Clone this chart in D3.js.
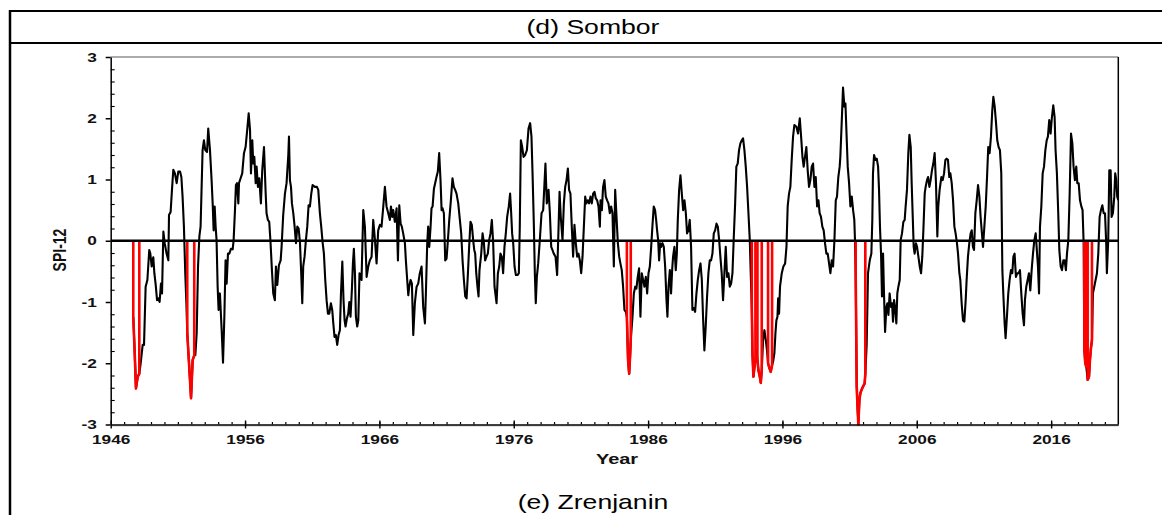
<!DOCTYPE html>
<html>
<head>
<meta charset="utf-8">
<script src="https://cdn.jsdelivr.net/npm/d3@7"></script>
<style>
  html, body { margin: 0; padding: 0; background: #fff; }
  svg { display: block; font-family: "Liberation Sans", Arial, sans-serif; }
</style>
</head>
<body>
<svg id="chart" width="1162" height="515"></svg>
<script>
// Monthly SPI-12 series for Sombor (decimal year, index value)
const years = [
  1947.68,1947.78,1947.88,1948.01,1948.13,1948.23,1948.38,1948.48,1948.60,1948.73,1948.87,1948.95,
  1949.05,1949.17,1949.25,1949.35,1949.45,1949.54,1949.64,1949.74,1949.82,1949.92,1950.02,1950.16,
  1950.29,1950.34,1950.46,1950.56,1950.66,1950.78,1950.91,1951.03,1951.16,1951.26,1951.35,1951.45,
  1951.55,1951.63,1951.70,1951.83,1951.98,1952.10,1952.22,1952.30,1952.40,1952.50,1952.60,1952.69,
  1952.84,1952.94,1953.04,1953.17,1953.26,1953.39,1953.51,1953.59,1953.66,1953.74,1953.81,1953.88,
  1953.96,1954.03,1954.13,1954.26,1954.36,1954.46,1954.55,1954.63,1954.73,1954.83,1954.95,1955.08,
  1955.15,1955.25,1955.32,1955.40,1955.50,1955.55,1955.67,1955.79,1955.92,1956.04,1956.17,1956.27,
  1956.37,1956.44,1956.54,1956.61,1956.69,1956.79,1956.86,1956.96,1957.06,1957.18,1957.28,1957.41,
  1957.53,1957.60,1957.70,1957.80,1957.90,1958.00,1958.10,1958.22,1958.30,1958.40,1958.52,1958.65,
  1958.72,1958.84,1958.97,1959.09,1959.22,1959.27,1959.34,1959.42,1959.49,1959.59,1959.69,1959.79,
  1959.89,1959.99,1960.09,1960.18,1960.26,1960.33,1960.43,1960.53,1960.63,1960.73,1960.83,1960.93,
  1961.03,1961.20,1961.35,1961.45,1961.57,1961.67,1961.77,1961.87,1961.97,1962.07,1962.17,1962.27,
  1962.39,1962.49,1962.57,1962.66,1962.76,1962.86,1962.96,1963.06,1963.14,1963.24,1963.33,1963.41,
  1963.48,1963.58,1963.68,1963.76,1963.85,1963.95,1964.03,1964.10,1964.18,1964.25,1964.35,1964.43,
  1964.52,1964.67,1964.80,1964.92,1965.05,1965.17,1965.29,1965.42,1965.54,1965.67,1965.79,1965.91,
  1966.04,1966.16,1966.29,1966.41,1966.53,1966.66,1966.78,1966.86,1966.96,1967.03,1967.15,1967.28,
  1967.38,1967.48,1967.58,1967.67,1967.77,1967.90,1967.97,1968.07,1968.15,1968.22,1968.32,1968.42,
  1968.52,1968.64,1968.77,1968.89,1969.01,1969.14,1969.26,1969.39,1969.46,1969.56,1969.63,1969.71,
  1969.81,1969.88,1969.96,1970.06,1970.15,1970.25,1970.35,1970.45,1970.55,1970.63,1970.70,1970.80,
  1970.90,1971.00,1971.10,1971.20,1971.32,1971.44,1971.54,1971.64,1971.74,1971.87,1971.99,1972.09,
  1972.19,1972.29,1972.39,1972.49,1972.59,1972.68,1972.78,1972.88,1972.98,1973.06,1973.13,1973.21,
  1973.30,1973.38,1973.45,1973.58,1973.68,1973.78,1973.87,1973.97,1974.07,1974.17,1974.27,1974.37,
  1974.47,1974.57,1974.72,1974.82,1974.92,1975.01,1975.11,1975.21,1975.31,1975.41,1975.51,1975.63,
  1975.73,1975.81,1975.88,1975.96,1976.06,1976.16,1976.28,1976.38,1976.45,1976.53,1976.63,1976.73,
  1976.85,1976.98,1977.10,1977.22,1977.32,1977.40,1977.50,1977.57,1977.64,1977.72,1977.82,1977.94,
  1978.07,1978.19,1978.29,1978.36,1978.46,1978.59,1978.69,1978.79,1978.88,1978.98,1979.11,1979.23,
  1979.33,1979.41,1979.50,1979.63,1979.73,1979.83,1979.93,1980.03,1980.12,1980.22,1980.32,1980.42,
  1980.52,1980.62,1980.72,1980.82,1980.92,1981.02,1981.12,1981.22,1981.32,1981.41,1981.51,1981.61,
  1981.71,1981.81,1981.91,1982.01,1982.11,1982.21,1982.31,1982.41,1982.46,1982.56,1982.65,1982.75,
  1982.85,1982.95,1983.05,1983.15,1983.25,1983.35,1983.45,1983.55,1983.65,1983.75,1983.85,1983.94,
  1984.04,1984.14,1984.24,1984.34,1984.42,1984.51,1984.59,1984.66,1984.71,1984.84,1984.94,1985.04,
  1985.13,1985.23,1985.33,1985.43,1985.53,1985.63,1985.73,1985.83,1985.93,1986.03,1986.13,1986.23,
  1986.32,1986.42,1986.52,1986.60,1986.67,1986.75,1986.82,1986.90,1986.97,1987.07,1987.17,1987.27,
  1987.37,1987.44,1987.52,1987.62,1987.71,1987.79,1987.86,1987.96,1988.06,1988.14,1988.21,1988.31,
  1988.41,1988.51,1988.61,1988.71,1988.81,1988.90,1989.00,1989.10,1989.20,1989.30,1989.40,1989.50,
  1989.60,1989.70,1989.80,1989.90,1990.00,1990.09,1990.19,1990.29,1990.39,1990.49,1990.59,1990.69,
  1990.79,1990.89,1990.99,1991.09,1991.19,1991.29,1991.38,1991.48,1991.58,1991.68,1991.78,1991.88,
  1991.98,1992.08,1992.18,1992.28,1992.38,1992.48,1992.57,1992.67,1992.77,1992.87,1992.97,1993.07,
  1993.17,1993.27,1993.37,1993.47,1993.57,1993.64,1993.72,1993.77,1993.84,1993.91,1993.99,1994.06,
  1994.14,1994.21,1994.29,1994.39,1994.46,1994.56,1994.66,1994.76,1994.86,1994.93,1995.03,1995.13,
  1995.23,1995.30,1995.40,1995.48,1995.55,1995.63,1995.68,1995.75,1995.82,1995.95,1996.07,1996.20,
  1996.30,1996.39,1996.49,1996.59,1996.69,1996.79,1996.89,1997.04,1997.16,1997.29,1997.39,1997.49,
  1997.58,1997.68,1997.78,1997.88,1997.98,1998.08,1998.18,1998.28,1998.38,1998.48,1998.58,1998.68,
  1998.77,1998.87,1998.97,1999.07,1999.17,1999.27,1999.37,1999.47,1999.57,1999.67,1999.77,1999.87,
  1999.97,2000.06,2000.16,2000.26,2000.31,2000.41,2000.51,2000.61,2000.69,2000.76,2000.86,2000.96,
  2001.06,2001.16,2001.26,2001.35,2001.40,2001.45,2001.53,2001.58,2001.65,2001.73,2001.80,2001.88,
  2002.00,2002.12,2002.17,2002.27,2002.37,2002.50,2002.62,2002.69,2002.74,2002.82,2002.92,2003.02,
  2003.12,2003.19,2003.26,2003.34,2003.41,2003.49,2003.56,2003.64,2003.74,2003.81,2003.89,2003.98,
  2004.08,2004.16,2004.23,2004.31,2004.38,2004.48,2004.55,2004.63,2004.73,2004.80,2004.90,2005.00,
  2005.10,2005.17,2005.27,2005.37,2005.45,2005.55,2005.62,2005.70,2005.77,2005.84,2005.94,2006.02,
  2006.12,2006.22,2006.32,2006.41,2006.49,2006.59,2006.66,2006.76,2006.84,2006.94,2007.03,2007.13,
  2007.23,2007.33,2007.43,2007.53,2007.60,2007.70,2007.83,2007.93,2008.03,2008.13,2008.22,2008.32,
  2008.42,2008.50,2008.60,2008.70,2008.80,2008.89,2008.99,2009.07,2009.17,2009.24,2009.34,2009.44,
  2009.54,2009.64,2009.71,2009.81,2009.91,2010.01,2010.09,2010.18,2010.26,2010.36,2010.46,2010.56,
  2010.66,2010.75,2010.85,2010.93,2011.03,2011.13,2011.23,2011.32,2011.42,2011.52,2011.62,2011.70,
  2011.80,2011.90,2011.99,2012.09,2012.19,2012.29,2012.37,2012.44,2012.54,2012.61,2012.71,2012.81,
  2012.91,2013.01,2013.11,2013.19,2013.28,2013.38,2013.48,2013.58,2013.68,2013.78,2013.88,2013.98,
  2014.05,2014.15,2014.25,2014.35,2014.45,2014.55,2014.65,2014.75,2014.85,2014.92,2015.02,2015.10,
  2015.17,2015.27,2015.37,2015.47,2015.57,2015.67,2015.76,2015.86,2015.96,2016.06,2016.16,2016.26,
  2016.33,2016.43,2016.53,2016.61,2016.71,2016.81,2016.91,2017.00,2017.10,2017.18,2017.28,2017.38,
  2017.48,2017.58,2017.67,2017.77,2017.87,2017.95,2018.05,2018.15,2018.25,2018.34,2018.42,2018.47,
  2018.54,2018.62,2018.72,2018.82,2018.89,2018.96,2019.04,2019.11,2019.21,2019.31,2019.41,2019.51,
  2019.61,2019.71,2019.81,2019.91,2020.01,2020.10,2020.15,2020.25,2020.33,2020.43,2020.50,2020.60,
  2020.70,2020.77,2020.85,2020.92,2021.00
];
const spi = [
  -1.24,-1.79,-2.41,-2.22,-2.17,-2.00,-1.70,-1.70,-0.75,-0.64,-0.15,-0.21,
  -0.42,-0.27,-0.53,-0.72,-0.97,-0.94,-1.00,-0.70,-0.86,0.15,-0.04,-0.21,
  -0.32,0.42,0.47,0.83,1.16,1.10,0.94,1.13,1.13,1.04,0.72,0.23,
  -0.53,-1.00,-1.51,-2.00,-2.57,-1.95,-1.87,-1.87,-1.51,-0.42,0.07,0.23,
  1.48,1.64,1.48,1.45,1.83,1.48,0.99,0.61,0.17,0.56,0.23,0.01,
  -0.75,-1.13,-0.86,-1.46,-1.99,-1.24,-0.32,-0.70,-0.21,-0.21,-0.13,-0.14,
  0.01,0.50,0.91,0.94,0.61,0.94,1.02,1.10,1.43,1.53,1.83,2.08,
  1.81,1.10,1.64,1.26,1.37,0.94,1.21,0.88,1.02,0.61,1.15,1.53,
  0.80,0.45,0.34,0.31,-0.04,-0.48,-0.86,-0.97,-0.42,-0.72,-0.40,-0.32,
  -0.10,0.42,0.77,0.94,1.40,1.70,0.99,0.88,0.61,0.45,0.23,-0.04,
  0.23,0.20,-0.04,-0.53,-1.02,-0.42,-0.26,0.01,0.23,0.58,0.56,0.77,
  0.91,0.88,0.88,0.83,0.45,0.23,-0.02,-0.21,-0.64,-0.97,-1.19,-1.19,
  -1.02,-1.13,-1.35,-1.57,-1.54,-1.70,-1.54,-1.46,-0.86,-0.34,-0.97,-1.30,
  -1.40,-1.27,-1.19,-1.00,-1.24,-0.81,-0.37,-0.13,-0.53,-1.24,-1.40,-1.30,
  -0.53,-0.64,0.50,0.23,-0.59,-0.42,-0.32,-0.26,0.34,0.01,-0.37,0.17,
  0.26,0.23,0.56,0.88,0.56,0.45,0.34,0.56,0.39,0.50,0.31,0.53,
  -0.32,0.58,0.28,0.23,0.12,-0.04,-0.32,-0.64,-0.89,-0.75,-0.64,-0.70,
  -1.54,-1.02,-0.75,-0.70,-0.53,-0.42,-1.08,-1.35,-0.86,-0.04,0.23,-0.10,
  0.23,0.53,0.56,0.85,0.94,1.04,1.13,1.43,0.99,0.50,0.53,0.45,
  -0.32,-0.29,0.01,0.34,0.66,1.02,0.88,0.83,0.77,0.61,0.34,0.12,
  -0.32,-0.64,-0.91,-0.94,-0.53,-0.10,0.31,0.26,0.01,-0.15,-0.21,-0.53,
  -0.75,-0.91,-0.48,-0.21,0.12,-0.04,-0.32,-0.26,-0.21,0.01,0.12,0.34,
  -0.04,-0.75,-1.02,-0.53,-0.42,-0.21,-0.26,-0.53,-0.10,0.12,0.39,0.56,
  0.77,0.45,0.12,-0.04,-0.42,-0.56,-0.56,-0.53,0.23,1.64,1.53,1.37,
  1.40,1.48,1.83,1.92,1.70,1.10,0.23,-0.53,-1.02,-0.59,-0.37,0.01,
  0.45,0.50,0.94,1.26,0.61,0.83,0.45,-0.10,-0.15,-0.21,-0.26,-0.56,
  0.17,0.80,0.39,0.01,0.61,0.88,0.99,1.18,0.83,0.77,0.23,-0.26,
  0.26,-0.04,-0.26,-0.21,-0.32,-0.53,-0.26,0.23,0.72,0.61,0.66,0.61,
  0.72,0.61,0.77,0.80,0.69,0.66,0.56,0.23,0.66,0.50,0.88,0.99,
  0.72,0.66,0.61,0.45,0.56,0.45,-0.42,0.83,0.39,-0.04,-0.26,-0.37,
  -0.48,-0.75,-1.13,-1.16,-1.24,-1.95,-2.17,-1.89,-1.62,-1.24,-0.86,-0.75,
  -0.78,-0.59,-0.45,-1.24,-0.53,-0.64,-0.75,-0.59,-0.86,-0.53,-0.42,-0.10,
  0.23,0.56,0.50,0.34,0.17,0.01,-0.32,-0.04,-0.10,-0.04,-0.10,-0.42,
  -0.97,-1.24,-0.75,-0.48,-0.86,-0.48,-0.26,-0.10,-0.48,-0.21,0.34,0.83,
  1.07,0.77,0.50,0.66,0.45,0.12,0.17,0.34,-0.10,-1.13,-1.10,-1.16,
  -0.86,-0.64,-0.48,-0.37,-0.64,-1.24,-1.79,-1.40,-0.91,-0.53,-0.32,-0.32,
  -0.21,0.12,0.17,0.28,0.23,0.01,-0.26,-0.53,-0.97,-0.53,-0.10,-0.59,
  -0.53,-0.75,-0.70,-0.53,0.07,0.61,1.21,1.26,1.48,1.59,1.64,1.67,
  1.48,1.21,0.88,0.45,0.01,-0.53,-1.08,-1.84,-2.22,-2.08,-1.95,-1.79,
  -1.95,-2.11,-2.19,-2.32,-2.11,-1.62,-1.46,-1.62,-1.81,-2.00,-2.08,-2.14,
  -2.03,-1.98,-1.84,-1.51,-1.30,-1.24,-0.94,-1.19,-0.75,-0.53,-0.42,-0.37,
  -0.10,0.56,0.77,0.88,1.32,1.70,1.89,1.86,1.75,2.00,1.70,1.37,
  1.21,1.37,1.53,1.15,0.88,0.99,1.21,1.26,0.88,1.04,0.56,0.66,
  0.45,0.39,0.23,0.17,-0.04,-0.21,-0.21,-0.37,-0.53,-0.32,-0.42,0.01,
  0.66,0.72,1.04,1.21,1.37,1.92,2.50,2.19,2.24,1.81,1.21,0.94,
  0.56,0.72,0.50,0.34,0.01,-0.48,-2.38,-2.66,-3.00,-2.60,-2.49,-2.44,
  -2.38,-2.33,-2.17,-1.70,-0.53,-0.32,-0.21,0.34,1.10,1.40,1.32,1.34,
  1.21,0.83,0.23,-0.21,-0.91,-0.21,-0.86,-1.49,-1.08,-1.02,-1.21,-0.86,
  -1.08,-1.02,-1.32,-0.97,-1.08,-1.35,-0.86,-0.75,-0.64,0.01,0.12,0.31,
  0.34,0.56,0.83,1.43,1.73,1.53,0.94,0.39,-0.10,-0.21,-0.04,-0.10,
  -0.26,-0.42,-0.53,-0.26,0.17,0.77,0.88,0.99,1.04,0.88,0.99,1.15,
  1.26,1.43,0.94,0.07,0.56,0.83,1.04,0.99,1.10,1.32,1.34,1.32,
  1.04,1.10,0.94,0.66,0.23,0.12,-0.04,-0.21,-0.53,-0.64,-1.02,-1.30,
  -1.32,-0.97,-0.64,-0.26,-0.04,0.12,0.17,-0.10,-0.15,0.45,0.66,0.91,
  0.72,0.39,0.12,-0.10,0.23,0.56,1.04,1.53,1.43,1.70,2.13,2.35,
  2.19,1.92,1.64,1.53,1.48,1.10,-0.48,-0.86,-1.35,-1.59,-1.24,-0.86,
  -0.64,-0.48,-0.53,-0.26,-0.21,-0.59,-0.53,-0.53,-0.48,-0.86,-1.19,-1.38,
  -0.97,-0.75,-0.64,-0.53,-0.81,-0.48,-0.21,0.01,0.12,-0.10,-0.42,-0.86,
  0.23,0.56,1.10,1.21,1.48,1.64,1.70,1.97,1.75,2.02,2.21,2.02,
  1.48,1.10,0.45,-0.15,-0.42,-0.48,-0.32,-0.32,-0.48,-0.21,0.01,0.77,
  1.75,1.59,1.21,0.99,1.21,0.94,0.94,0.66,0.56,0.50,-0.04,-1.76,
  -2.00,-2.06,-2.27,-2.22,-1.95,-1.76,-1.62,-0.86,-0.75,-0.64,-0.53,-0.21,
  0.39,0.50,0.58,0.45,0.45,-0.04,-0.53,0.01,1.15,1.15,0.39,0.45,
  0.72,1.10,0.99,0.72,0.66
];

// Extreme drought episodes, drawn in red (first and last month of each)
const eventStart = [1947.68, 1951.70, 1984.42, 1993.72, 1994.14, 1994.93, 2001.45, 2018.47, 2018.72];
const eventEnd   = [1948.13, 1952.22, 1984.71, 1993.99, 1994.46, 1995.23, 2002.17, 2018.62, 2019.04];

// Axis ticks and labels
const yearTicks = [1946, 1956, 1966, 1976, 1986, 1996, 2006, 2016];
const spiTicks = [-3, -2, -1, 0, 1, 2, 3];
const panelTitle = "(d) Sombor";
const nextPanelTitle = "(e) Zrenjanin";
const xLabel = "Year";
const yLabel = "SPI-12";

const W = 1162, H = 515;
const stretch = 1.33; // horizontal text widening used across the figure
const font = "'Liberation Sans', Arial, sans-serif";

const svg = d3.select("#chart");
const series = years.map((t, i) => ({ t, v: spi[i] }));

const x = d3.scaleLinear().domain([1946, 2021]).range([110.7, 1118.3]);
const y = d3.scaleLinear().domain([-3, 3]).range([424.5, 57]);

// Table rules around the panel
svg.append("line").attr("x1", 10).attr("x2", W).attr("y1", 11).attr("y2", 11)
  .attr("stroke", "#000").attr("stroke-width", 2);
svg.append("line").attr("x1", 10).attr("x2", W).attr("y1", 43).attr("y2", 43)
  .attr("stroke", "#000").attr("stroke-width", 2);
svg.append("line").attr("x1", 10).attr("x2", 10).attr("y1", 10).attr("y2", H)
  .attr("stroke", "#000").attr("stroke-width", 2.5);

// Panel captions
svg.append("text")
  .attr("transform", `translate(593,34) scale(${stretch},1)`)
  .attr("text-anchor", "middle").attr("font-family", font).attr("font-size", 20)
  .text(panelTitle);
svg.append("text")
  .attr("transform", `translate(593,509) scale(${stretch},1)`)
  .attr("text-anchor", "middle").attr("font-family", font).attr("font-size", 20)
  .text(nextPanelTitle);

// Plot frame: light top edge, dark right edge
svg.append("line").attr("x1", x(1946)).attr("x2", x(2021)).attr("y1", y(3)).attr("y2", y(3))
  .attr("stroke", "#8f8f8f").attr("stroke-width", 1.5);
svg.append("line").attr("x1", x(2021)).attr("x2", x(2021)).attr("y1", y(3)).attr("y2", y(-3))
  .attr("stroke", "#000").attr("stroke-width", 1.5);
svg.append("line").attr("x1", x(1946)).attr("x2", x(2021)).attr("y1", y(-3) + 1.5).attr("y2", y(-3) + 1.5)
  .attr("stroke", "#c8c8c8").attr("stroke-width", 1.2);

// Clip for the data
svg.append("clipPath").attr("id", "plotClip").append("rect")
  .attr("x", x(1946)).attr("y", y(3) - 2)
  .attr("width", x(2021) - x(1946)).attr("height", y(-3) - y(3) + 3);

const line = d3.line().x(d => x(d.t)).y(d => y(d.v));
const plot = svg.append("g").attr("clip-path", "url(#plotClip)");

plot.append("path").datum(series)
  .attr("d", line).attr("fill", "none")
  .attr("stroke", "#000").attr("stroke-width", 2.1).attr("stroke-linejoin", "round");

// Drought episodes: drop to zero at both ends, following the index in between
eventStart.forEach((s, i) => {
  const inside = series.filter(d => d.t >= s - 1e-6 && d.t <= eventEnd[i] + 1e-6);
  const pts = [{ t: inside[0].t, v: 0 }, ...inside, { t: inside[inside.length - 1].t, v: 0 }];
  plot.append("path").datum(pts)
    .attr("d", line).attr("fill", "none")
    .attr("stroke", "#ff0000").attr("stroke-width", 2.6).attr("stroke-linejoin", "round");
});

// Zero reference line
svg.append("line").attr("x1", x(1946)).attr("x2", x(2021)).attr("y1", y(0)).attr("y2", y(0))
  .attr("stroke", "#000").attr("stroke-width", 2.6);

// X axis: yearly minor ticks inside, decade ticks across the axis
const xMinor = svg.append("g").attr("transform", `translate(0,${y(-3)})`)
  .call(d3.axisBottom(x).tickValues(d3.range(1947, 2021)).tickSize(-2.5).tickSizeOuter(0).tickFormat(""));
xMinor.select(".domain").remove();
const xInner = svg.append("g").attr("transform", `translate(0,${y(-3)})`)
  .call(d3.axisBottom(x).tickValues(yearTicks).tickSize(-4).tickSizeOuter(0).tickFormat(""));
xInner.select(".domain").remove();
const xAxis = svg.append("g").attr("transform", `translate(0,${y(-3)})`)
  .call(d3.axisBottom(x).tickValues(yearTicks).tickSize(4).tickSizeOuter(0).tickPadding(6.5)
    .tickFormat(d => String(d)));
xAxis.attr("font-family", font).attr("font-size", 13).attr("font-weight", "bold");
xAxis.selectAll(".tick text").attr("transform", `scale(${stretch},1)`).attr("fill", "#111");
xAxis.selectAll("line, path").attr("stroke-width", 1.4);
xMinor.selectAll("line").attr("stroke-width", 1.2);
xInner.selectAll("line").attr("stroke-width", 1.4);

// Y axis: minor ticks every 0.2 inside, labelled ticks outside
const minorSpi = d3.range(-30, 31, 2).filter(k => k % 10 !== 0).map(k => k / 10);
const yMinor = svg.append("g").attr("transform", `translate(${x(1946)},0)`)
  .call(d3.axisRight(y).tickValues(minorSpi).tickSize(4).tickSizeOuter(0).tickFormat(""));
yMinor.select(".domain").remove();
yMinor.selectAll("line").attr("stroke-width", 1.1);
const yAxis = svg.append("g").attr("transform", `translate(${x(1946)},0)`)
  .call(d3.axisLeft(y).tickValues(spiTicks).tickSize(5).tickSizeOuter(0).tickFormat(d => String(d)));
yAxis.attr("font-family", font).attr("font-size", 13).attr("font-weight", "bold");
yAxis.selectAll(".tick text").attr("x", -10.5).attr("transform", `scale(${stretch},1)`).attr("fill", "#111");
yAxis.selectAll("line, path").attr("stroke-width", 1.5);

// Axis titles
svg.append("text")
  .attr("transform", `translate(617,464) scale(${stretch},1)`)
  .attr("text-anchor", "middle").attr("font-family", font)
  .attr("font-size", 15).attr("font-weight", "bold").attr("fill", "#111")
  .text(xLabel);
svg.append("text")
  .attr("transform", `translate(66,250) scale(${stretch},1) rotate(-90)`)
  .attr("text-anchor", "middle").attr("font-family", font)
  .attr("font-size", 14).attr("font-weight", "bold").attr("fill", "#111")
  .text(yLabel);
</script>
</body>
</html>
